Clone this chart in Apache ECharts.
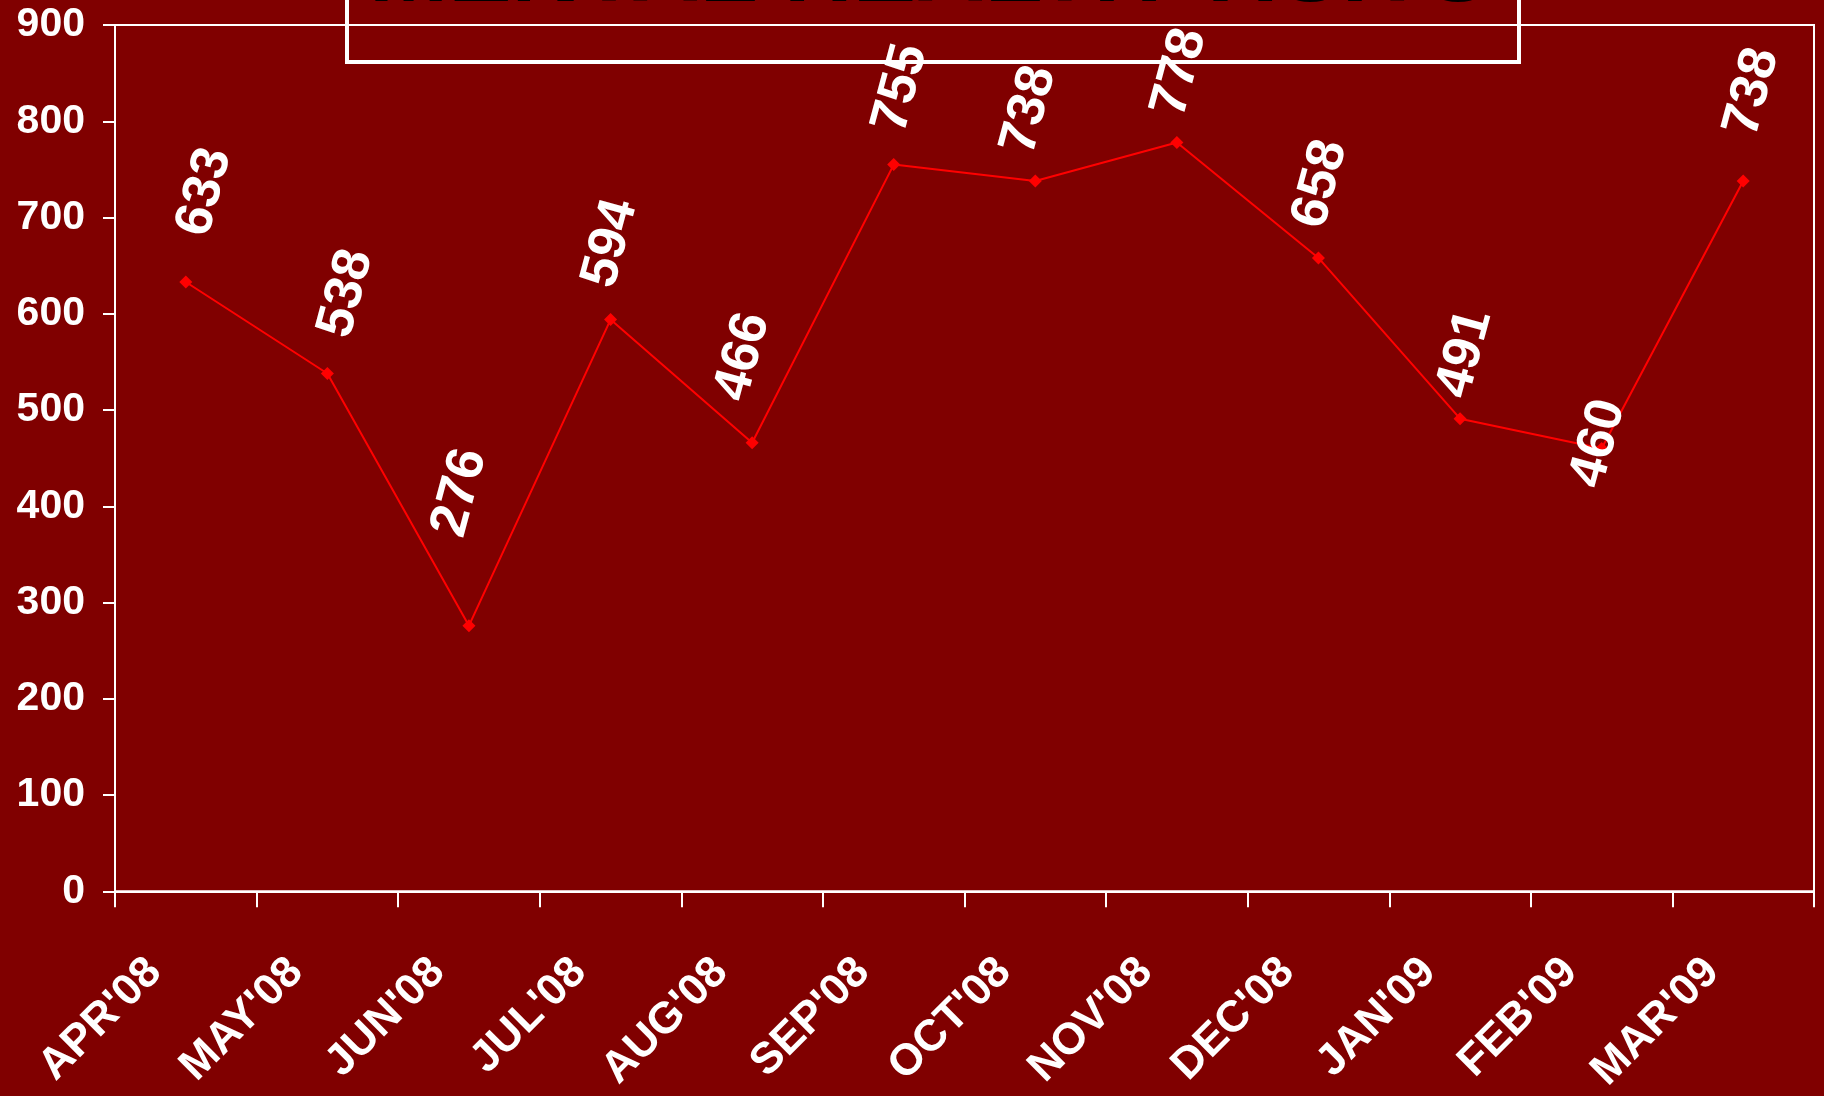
<!DOCTYPE html>
<html>
<head>
<meta charset="utf-8">
<script src="https://cdn.jsdelivr.net/npm/echarts@6/dist/echarts.min.js"></script>
<style>
html,body{margin:0;padding:0;background:#800000;}
#chart{width:1824px;height:1096px;}
</style>
</head>
<body>
<div id="chart"></div>
<script>
const titleText = "MENTAL HEALTH VISITS";
const categories = ["APR'08","MAY'08","JUN'08","JUL'08","AUG'08","SEP'08","OCT'08","NOV'08","DEC'08","JAN'09","FEB'09","MAR'09"];
const visits = [633, 538, 276, 594, 466, 755, 738, 778, 658, 491, 460, 738];
const yMin = 0, yMax = 900, yStep = 100;

const FONT = "'Liberation Sans', Arial, sans-serif";
const LABEL_ROTATE = 75;
// style: screen-space nudges of the value labels relative to their point (manually placed in the original)
const labelNudges = [[19,-90],[19,-80],[-9,-133],[0,-76],[-9,-86],[7,-76],[-6,-71],[3,-70],[2,-74],[5,-65],[-3,-5],[9,-89]];

function toLocal(s) {
  const t = LABEL_ROTATE * Math.PI / 180;
  const c = Math.cos(t), n = Math.sin(t);
  return [s[0] * c - s[1] * n, s[0] * n + s[1] * c];
}

const seriesData = visits.map((v, i) => ({
  value: v,
  label: { offset: toLocal(labelNudges[i] || [0, -76]) }
}));

const chart = echarts.init(document.getElementById('chart'), null, {renderer: 'canvas'});
chart.setOption({
  backgroundColor: '#800000',
  animation: false,
  title: {
    text: titleText,
    left: 347,
    top: -83,
    padding: [10, 30, 40, 22],
    borderColor: '#ffffff',
    borderWidth: 4,
    textStyle: {
      color: '#000000',
      fontFamily: FONT,
      fontWeight: 'bold',
      fontSize: 95,
      lineHeight: 95
    }
  },
  grid: {
    left: 115, top: 25, right: 10, bottom: 203,
    show: true,
    borderColor: '#ffffff',
    borderWidth: 2,
    backgroundColor: 'transparent'
  },
  xAxis: {
    type: 'category',
    data: categories,
    boundaryGap: true,
    axisLine: { show: true, lineStyle: { color: '#ffffff', width: 2 } },
    axisTick: { show: true, length: 16, lineStyle: { color: '#ffffff', width: 2 } },
    axisLabel: {
      interval: 0,
      rotate: 45,
      color: '#ffffff',
      fontFamily: FONT,
      fontWeight: 'bold',
      fontSize: 44,
      margin: 43,
      padding: [0, 44, 0, 0]
    },
    splitLine: { show: false }
  },
  yAxis: {
    type: 'value',
    min: yMin,
    max: yMax,
    interval: yStep,
    axisLine: { show: true, lineStyle: { color: '#ffffff', width: 2 } },
    axisTick: { show: true, length: 12, lineStyle: { color: '#ffffff', width: 2 } },
    axisLabel: {
      color: '#ffffff',
      fontFamily: FONT,
      fontWeight: 'bold',
      fontSize: 41,
      margin: 30
    },
    splitLine: { show: false }
  },
  series: [{
    type: 'line',
    data: seriesData,
    symbol: 'diamond',
    symbolSize: 13,
    lineStyle: { color: '#ff0000', width: 2 },
    itemStyle: { color: '#ff0000' },
    label: {
      show: true,
      position: 'inside',
      rotate: LABEL_ROTATE,
      align: 'center',
      verticalAlign: 'middle',
      color: '#ffffff',
      fontFamily: FONT,
      fontWeight: 'bold',
      fontSize: 53
    }
  }]
});
</script>
</body>
</html>
